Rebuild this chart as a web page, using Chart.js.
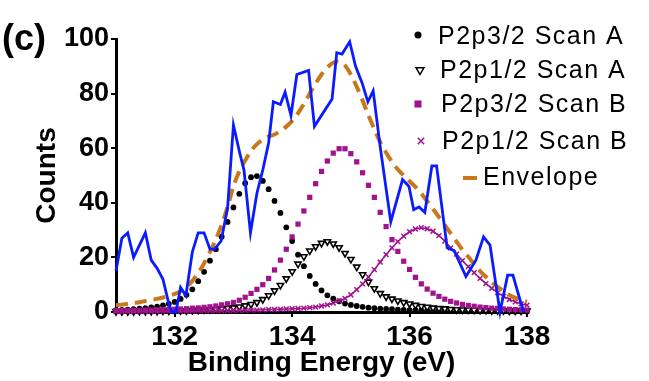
<!DOCTYPE html>
<html>
<head>
<meta charset="utf-8">
<script src="https://cdn.jsdelivr.net/npm/chart.js@4.4.1/dist/chart.umd.min.js"></script>
<style>
  html, body { margin: 0; padding: 0; background: #fff; }
  #wrap { width: 649px; height: 381px; }
</style>
</head>
<body>
<div id="wrap"><canvas id="xps-chart" width="649" height="381"></canvas></div>
<script>
// fitted components, 0.1 eV grid
var energy = [
  131.0, 131.1, 131.2, 131.3, 131.4, 131.5, 131.6, 131.7, 131.8, 131.9,
  132.0, 132.1, 132.2, 132.3, 132.4, 132.5, 132.6, 132.7, 132.8, 132.9,
  133.0, 133.1, 133.2, 133.3, 133.4, 133.5, 133.6, 133.7, 133.8, 133.9,
  134.0, 134.1, 134.2, 134.3, 134.4, 134.5, 134.6, 134.7, 134.8, 134.9,
  135.0, 135.1, 135.2, 135.3, 135.4, 135.5, 135.6, 135.7, 135.8, 135.9,
  136.0, 136.1, 136.2, 136.3, 136.4, 136.5, 136.6, 136.7, 136.8, 136.9,
  137.0, 137.1, 137.2, 137.3, 137.4, 137.5, 137.6, 137.7, 137.8, 137.9,
  138.0
];
var p32ScanA = [
  0.7, 0.8, 0.9, 1.0, 1.2, 1.4, 1.7, 2.0, 2.4, 3.0,
  3.7, 4.8, 6.3, 8.3, 11.3, 14.7, 18.8, 23.0, 27.6, 33.0,
  38.3, 43.3, 47.2, 49.4, 49.8, 48.0, 45.0, 40.7, 36.3, 31.0,
  26.0, 21.0, 16.8, 13.2, 10.3, 7.9, 6.1, 4.9, 3.9, 3.1,
  2.6, 2.2, 1.9, 1.6, 1.4, 1.2, 1.1, 1.0, 0.9, 0.8,
  0.7, 0.7, 0.6, 0.6, 0.5, 0.5, 0.5, 0.4, 0.4, 0.4,
  0.4, 0.3, 0.3, 0.3, 0.3, 0.3, 0.3, 0.2, 0.2, 0.2,
  0.2
];
var p12ScanA = [
  0.2, 0.2, 0.2, 0.2, 0.3, 0.3, 0.3, 0.3, 0.4, 0.4,
  0.4, 0.5, 0.5, 0.6, 0.7, 0.8, 0.9, 1.0, 1.2, 1.4,
  1.6, 1.9, 2.3, 2.8, 3.5, 4.6, 6.0, 7.8, 9.8, 12.2,
  14.8, 17.6, 20.3, 22.4, 24.0, 25.2, 25.8, 25.0, 23.6, 21.5,
  19.3, 16.5, 13.7, 11.0, 8.6, 6.8, 5.6, 4.8, 4.1, 3.5,
  3.0, 2.5, 2.1, 1.8, 1.5, 1.3, 1.2, 1.0, 0.9, 0.8,
  0.8, 0.7, 0.6, 0.6, 0.5, 0.5, 0.5, 0.4, 0.4, 0.4,
  0.4
];
var p32ScanB = [
  0.5, 0.5, 0.6, 0.6, 0.6, 0.7, 0.7, 0.8, 0.9, 0.9,
  1.0, 1.1, 1.2, 1.4, 1.5, 1.7, 1.9, 2.2, 2.6, 3.0,
  3.5, 4.3, 5.4, 6.8, 8.3, 10.0, 12.3, 15.4, 19.0, 23.0,
  27.5, 32.2, 37.0, 42.0, 47.0, 51.5, 55.3, 58.2, 59.8, 59.8,
  58.0, 55.0, 51.0, 46.4, 42.0, 36.5, 31.3, 26.5, 22.2, 18.6,
  15.6, 12.7, 10.3, 8.4, 6.9, 5.7, 4.7, 3.9, 3.3, 2.8,
  2.4, 2.1, 1.8, 1.6, 1.4, 1.3, 1.1, 1.0, 0.9, 0.8,
  0.7
];
var p12ScanB = [
  0.2, 0.2, 0.2, 0.2, 0.2, 0.2, 0.2, 0.3, 0.3, 0.3,
  0.3, 0.3, 0.3, 0.3, 0.4, 0.4, 0.4, 0.4, 0.5, 0.5,
  0.5, 0.6, 0.6, 0.7, 0.7, 0.8, 0.9, 0.9, 1.0, 1.1,
  1.2, 1.3, 1.4, 1.6, 1.8, 2.2, 2.6, 3.3, 4.1, 5.0,
  6.3, 8.2, 10.3, 12.8, 15.5, 18.3, 21.0, 23.5, 25.8, 27.8,
  29.4, 30.4, 30.9, 30.5, 29.6, 28.0, 26.0, 23.5, 21.2, 18.8,
  16.6, 14.4, 12.3, 10.4, 8.7, 7.1, 5.7, 4.6, 3.7, 3.0,
  2.5
];
var envelope = [
  2.5, 2.7, 3.0, 3.2, 3.6, 4.0, 4.4, 4.8, 5.3, 5.9,
  6.6, 7.6, 9.2, 11.4, 14.3, 17.8, 22.0, 26.6, 32.0, 38.5,
  46.0, 51.5, 55.5, 59.0, 61.5, 63.2, 64.3, 65.0, 66.3, 67.9,
  70.0, 72.8, 76.2, 80.0, 83.7, 87.0, 89.6, 91.3, 91.7, 90.3,
  87.0, 82.5, 77.5, 72.0, 67.0, 62.2, 58.4, 55.0, 52.2, 50.0,
  47.9, 45.8, 43.4, 40.6, 37.7, 34.8, 31.8, 28.8, 25.8, 22.8,
  20.2, 17.5, 15.0, 12.9, 10.9, 9.2, 7.6, 6.2, 5.2, 4.4,
  3.8
];

// measured spectrum (blue line)
var scanEnergy = [
  131.0, 131.1, 131.2, 131.3, 131.5, 131.6, 131.7, 131.8, 131.9, 131.95,
  132.02, 132.1, 132.19, 132.3, 132.4, 132.5, 132.6, 132.68, 132.79, 132.9,
  133.0, 133.11, 133.18, 133.29, 133.4, 133.5, 133.6, 133.68, 133.8, 133.88,
  133.98, 134.08, 134.28, 134.38, 134.68, 134.76, 134.85, 134.98, 135.08, 135.19,
  135.29, 135.38, 135.5, 135.68, 135.88, 135.99, 136.07, 136.16, 136.26, 136.38,
  136.46, 136.64, 136.76, 136.96, 137.13, 137.26, 137.37, 137.54, 137.67, 137.76,
  137.94
];
var scanCounts = [
  15, 27, 29, 20, 29, 19, 16, 12, 3, 0,
  0, 9, 6, 22, 29, 29, 23, 23, 26, 38,
  68.5, 58, 52, 29, 43.5, 52, 62, 77, 76, 80.5,
  72, 87, 88.5, 68, 78, 95, 94.5, 99, 90, 84,
  77, 81, 60.5, 33, 48.5, 46, 37.5, 38.5, 36.5, 53.5,
  53.5, 23.5, 22.5, 13, 19, 27.5, 24.5, 0, 13.5, 13.5,
  0
];

var seriesNames = ["P2p3/2 Scan A", "P2p1/2 Scan A", "P2p3/2 Scan B", "P2p1/2 Scan B", "Envelope"];
var xTickValues = [132, 134, 136, 138];
var yTickValues = [0, 20, 40, 60, 80, 100];

var purple = "#a0138c";
var orange = "#c8781a";
var blue = "#0a1bff";

function pairs(xs, ys) {
  return xs.map(function (x, i) {
    return { x: x, y: ys[i] };
  });
}

Chart.defaults.font.family = "'Liberation Sans', Arial, sans-serif";
Chart.defaults.color = "#000";

// legend on the right + panel letter
var sideLegend = {
  id: "sideLegend",
  afterDraw: function (chart) {
    var ctx = chart.ctx;
    var drawPoint = Chart.helpers.drawPoint;
    ctx.save();

    ctx.font = "bold 36px 'Liberation Sans', Arial, sans-serif";
    ctx.fillStyle = "#000";
    ctx.textBaseline = "middle";
    ctx.textAlign = "left";
    ctx.fillText("(c)", 2, 40);

    ctx.font = "25px 'Liberation Sans', Arial, sans-serif";
    ctx.letterSpacing = "1.5px";
    var rows = [37, 71, 105, 142, 178];
    var textX = [438, 440, 441, 442, 483];

    ctx.fillStyle = "#000";
    ctx.strokeStyle = "#000";
    drawPoint(ctx, { pointStyle: "circle", radius: 3.5, borderWidth: 0 }, 418, 35);

    ctx.fillStyle = "#fff";
    ctx.strokeStyle = "#000";
    drawPoint(ctx, { pointStyle: "triangle", rotation: 180, radius: 4.5, borderWidth: 2 }, 420, 70);

    ctx.fillStyle = purple;
    ctx.strokeStyle = purple;
    drawPoint(ctx, { pointStyle: "rect", radius: 5, borderWidth: 0 }, 418, 104);
    drawPoint(ctx, { pointStyle: "crossRot", radius: 4.5, borderWidth: 2 }, 421, 141);

    ctx.strokeStyle = orange;
    ctx.lineWidth = 4;
    ctx.beginPath();
    ctx.moveTo(463, 178);
    ctx.lineTo(477, 178);
    ctx.stroke();

    ctx.fillStyle = "#000";
    seriesNames.forEach(function (name, i) {
      ctx.fillText(name, textX[i], rows[i]);
    });
    ctx.restore();
  },
};

var ctx = document.getElementById("xps-chart").getContext("2d");
new Chart(ctx, {
  type: "scatter",
  data: {
    datasets: [
      {
        label: seriesNames[0],
        data: pairs(energy, p32ScanA),
        pointStyle: "circle",
        pointRadius: 2.9,
        pointBorderWidth: 0,
        backgroundColor: "#000",
        borderColor: "#000",
        order: 5,
        clip: false,
      },
      {
        label: seriesNames[1],
        data: pairs(energy, p12ScanA),
        pointStyle: "triangle",
        rotation: 180,
        pointRadius: 3.6,
        pointBorderWidth: 1.6,
        backgroundColor: "#fff",
        borderColor: "#000",
        order: 4,
        clip: false,
      },
      {
        label: seriesNames[2],
        data: pairs(energy, p32ScanB),
        pointStyle: "rect",
        pointRadius: 3.7,
        pointBorderWidth: 0,
        backgroundColor: purple,
        borderColor: purple,
        order: 3,
        clip: false,
      },
      {
        label: seriesNames[3],
        data: pairs(energy, p12ScanB),
        showLine: true,
        borderWidth: 1.5,
        pointStyle: "crossRot",
        pointRadius: 3.4,
        pointBorderWidth: 1.5,
        backgroundColor: purple,
        borderColor: purple,
        order: 2,
        clip: false,
      },
      {
        label: seriesNames[4],
        data: pairs(energy, envelope),
        showLine: true,
        borderColor: orange,
        borderWidth: 4,
        borderDash: [12, 7],
        pointRadius: 0,
        tension: 0.3,
        order: 1,
        clip: false,
      },
      {
        label: "Measured",
        data: pairs(scanEnergy, scanCounts),
        showLine: true,
        borderColor: blue,
        borderWidth: 2.8,
        pointRadius: 0,
        order: 0,
        clip: false,
      },
    ],
  },
  options: {
    responsive: false,
    animation: false,
    events: [],
    layout: {
      padding: { top: 39, right: 122, bottom: 0, left: 0 },
    },
    plugins: {
      legend: { display: false },
      tooltip: { enabled: false },
    },
    scales: {
      x: {
        type: "linear",
        min: 131,
        max: 138,
        afterFit: function (scale) {
          scale.height = 69;
        },
        afterBuildTicks: function (scale) {
          scale.ticks = xTickValues.map(function (v) {
            return { value: v };
          });
        },
        grid: {
          drawOnChartArea: false,
          drawTicks: true,
          tickLength: 5,
          color: "#000",
          lineWidth: 2,
        },
        border: { display: true, color: "#000", width: 3 },
        ticks: {
          padding: 3,
          color: "#000",
          font: { size: 28, weight: "bold" },
          maxRotation: 0,
        },
        title: {
          display: true,
          text: "Binding Energy (eV)",
          color: "#000",
          font: { size: 28, weight: "bold" },
          padding: { top: 0, bottom: 1 },
        },
      },
      y: {
        type: "linear",
        min: 0,
        max: 100,
        afterFit: function (scale) {
          scale.width = 116;
        },
        afterBuildTicks: function (scale) {
          scale.ticks = yTickValues.map(function (v) {
            return { value: v };
          });
        },
        grid: {
          drawOnChartArea: false,
          drawTicks: true,
          tickLength: 5,
          color: "#000",
          lineWidth: 2,
        },
        border: { display: true, color: "#000", width: 3 },
        ticks: {
          padding: 2,
          color: "#000",
          font: { size: 27, weight: "bold" },
        },
        title: {
          display: true,
          text: "Counts",
          color: "#000",
          font: { size: 28, weight: "bold" },
          padding: { top: 30, bottom: 0 },
        },
      },
    },
  },
  plugins: [sideLegend],
});
</script>
</body>
</html>
